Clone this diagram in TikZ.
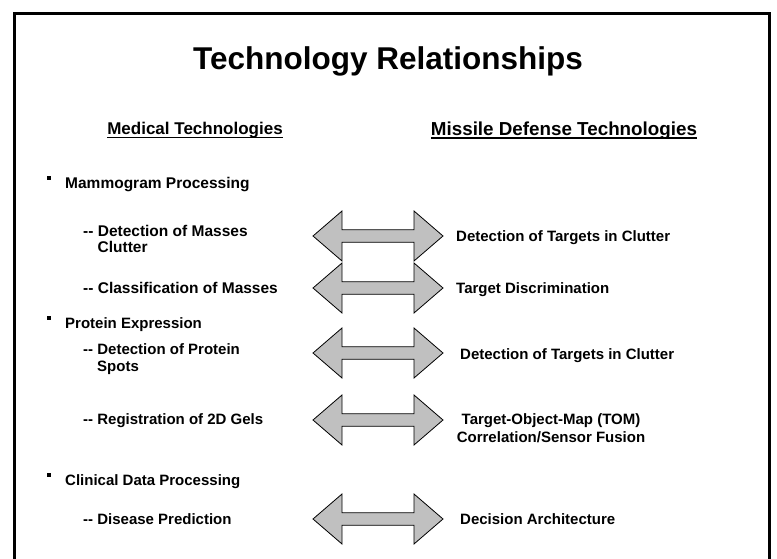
\documentclass[tikz,border=0pt]{standalone}
\usepackage{fontspec}
\setmainfont[Ligatures=NoCommon]{Liberation Sans}
\definecolor{arrowgray}{HTML}{C0C0C0}
\newcommand{\dd}{-{}-}
\begin{document}
\begin{tikzpicture}[x=1pt,y=-1pt,
  titletext/.style={font=\fontsize{31.5}{38}\selectfont\bfseries, inner sep=0pt, anchor=base},
  subhead/.style={font=\fontsize{18}{22}\selectfont\bfseries, inner sep=0pt, anchor=base},
  itemtext/.style={font=\fontsize{15}{18}\selectfont\bfseries, inner sep=0pt, anchor=base west},
  bigitem/.style={itemtext, font=\fontsize{15.5}{19}\selectfont\bfseries},
  ctrtext/.style={font=\fontsize{15}{18}\selectfont\bfseries, inner sep=0pt, anchor=base},
  bulletsq/.style={fill=black, minimum size=3.5pt, inner sep=0pt, outer sep=0pt},
  frameline/.style={line width=3pt, line join=miter},
  uline/.style={line width=1.4pt},
  dblarrow/.pic={\draw[fill=arrowgray, line width=0.8pt, line join=miter]
     (-65,0) -- (-36,-25) -- (-36,-6.25) -- (36,-6.25) -- (36,-25) -- (65,0)
     -- (36,25) -- (36,6.25) -- (-36,6.25) -- (-36,25) -- cycle;}
]
\useasboundingbox (0,0) rectangle (777,559);
% frame (open at the bottom)
\draw[frameline] (14.5,562) -- (14.5,13.5) -- (769.5,13.5) -- (769.5,562);

% title and column heads
\node[titletext] (title) at (388,69.5) {Technology Relationships};
\node[subhead, font=\fontsize{17}{21}\selectfont\bfseries] (medhead) at (195,135) {Medical Technologies};
\node[subhead, font=\fontsize{18.8}{22}\selectfont\bfseries] (mishead) at (564,135.5) {Missile Defense Technologies};
\draw[uline] ([yshift=-2.5pt]medhead.base west) -- ([yshift=-2.5pt]medhead.base east);
\draw[uline] ([yshift=-2.5pt]mishead.base west) -- ([yshift=-2.5pt]mishead.base east);

% left column
\node[bulletsq] (b1) at (49,178) {};
\node[bigitem] (mammo) at (65,188.6) {Mammogram Processing};
\node[bigitem] (detmass) at (83,236.6) {\dd{} Detection of Masses};
\node[bigitem] (clutter) at (97.5,252.6) {Clutter};
\node[bigitem] (classmass) at (83,293.6) {\dd{} Classification of Masses};
\node[bulletsq] (b2) at (49,318) {};
\node[itemtext] (protein) at (65,328.4) {Protein Expression};
\node[itemtext] (detprot) at (83,354.4) {\dd{} Detection of Protein};
\node[itemtext] (spots) at (97,371.4) {Spots};
\node[itemtext] (regis) at (83,424.4) {\dd{} Registration of 2D Gels};
\node[bulletsq] (b3) at (49,475) {};
\node[itemtext] (clinical) at (65,485.4) {Clinical Data Processing};
\node[itemtext] (disease) at (83,524.4) {\dd{} Disease Prediction};

% right column
\node[itemtext] (dett1) at (456,241.4) {Detection of Targets in Clutter};
\node[itemtext] (tdisc) at (456,293.4) {Target Discrimination};
\node[itemtext] (dett2) at (460,359.4) {Detection of Targets in Clutter};
\node[ctrtext] (tom) at (551,424.4) {Target-Object-Map (TOM)};
\node[ctrtext] (corr) at (551,442.4) {Correlation/Sensor Fusion};
\node[itemtext] (decis) at (460,524.4) {Decision Architecture};

% double arrows
\coordinate (a1) at (378,236);
\coordinate (a2) at (378,288);
\coordinate (a3) at (378,353);
\coordinate (a4) at (378,420);
\coordinate (a5) at (378,519);
\foreach \a in {a1,a2,a3,a4,a5} { \pic at (\a) {dblarrow}; }
\end{tikzpicture}
\end{document}
